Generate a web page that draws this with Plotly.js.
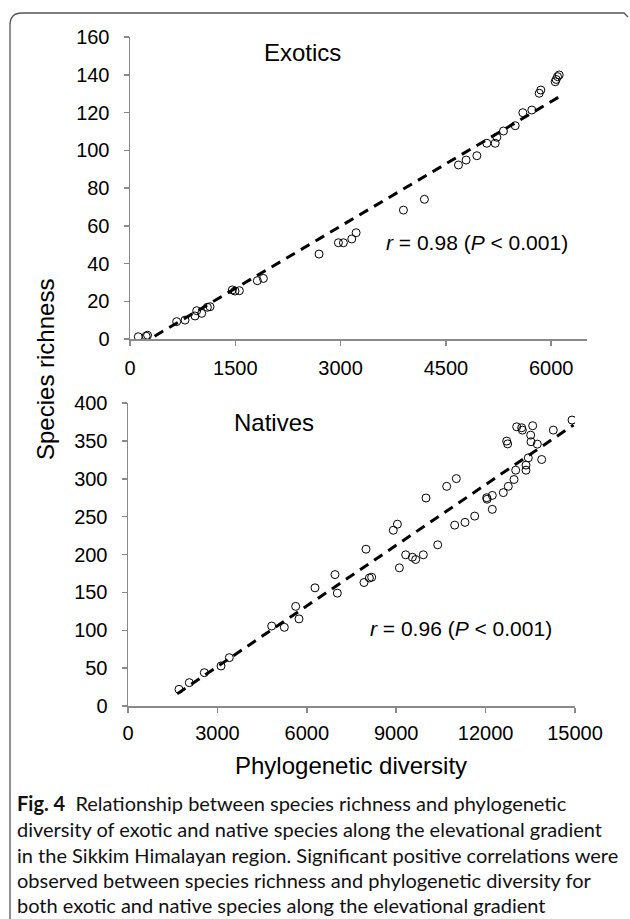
<!DOCTYPE html>
<html>
<head>
<meta charset="utf-8">
<script src="https://cdn.plot.ly/plotly-3.0.1.min.js"></script>
<style>
html,body{margin:0;padding:0;background:#fff;}
#chart{width:630px;height:919px;}
</style>
</head>
<body>
<div id="chart"></div>
<script>
// ---- Data ----
const exoticPD = [118, 230, 250, 665, 784, 926, 950, 1021, 1102, 1140, 1458, 1496, 1558, 1814, 1900,
  2693, 2969, 3040, 3159, 3221, 3895, 4194, 4679, 4788, 4941, 5083, 5202, 5226, 5320, 5487,
  5596, 5724, 5829, 5852, 6057, 6071, 6090, 6114];
const exoticSR = [1.2, 1.5, 2, 9.2, 10, 12.2, 15, 13.6, 16.8, 17.1, 26, 25.4, 25.6, 30.9, 32.1,
  45, 51, 51, 53, 56.3, 68.3, 74, 92.2, 94.8, 97.1, 103.7, 103.7, 106.9, 110.2, 113,
  119.9, 121.3, 130.2, 131.9, 136.3, 137.5, 139, 139.9];
const exoticFitPD = [350, 6100];
const exoticFitSR = [1.5, 128];

const nativePD = [1711, 2057, 2561, 3121, 3400, 4822, 5246, 5627, 5738, 6275, 6946, 7024, 7919, 7987,
  8100, 8177, 8903, 9040, 9107, 9318, 9542, 9654, 9910, 10000, 10393, 10695, 11018, 10963, 11309,
  11634, 12037, 12050, 12225, 12225, 12594, 12762, 12953, 13010, 13356, 13356, 13433, 13882, 12708,
  12740, 13043, 13210, 13233, 13580, 13512, 13523, 13735, 14272, 14900];
const nativeSR = [22, 30.8, 44, 52.8, 63.8, 105.6, 103.9, 131.5, 115, 156, 173.5, 149, 163, 207,
  169, 170, 232, 240, 182.4, 199.6, 196.4, 193.4, 199.6, 274.6, 212.8, 290, 300.2, 238.8, 242.4,
  250.7, 275, 273, 278, 259.6, 281.7, 290, 299, 311.3, 311.3, 318, 327.6, 325.4, 349.7,
  346, 368.6, 367.3, 364.2, 370, 357.6, 348.8, 345.7, 364.2, 377.5];
const nativeFitPD = [1650, 14950];
const nativeFitSR = [16, 371];

const panelLabels = ["Exotics", "Natives"];
const statLabels = ["<i>r</i> = 0.98 (<i>P</i> &lt; 0.001)", "<i>r</i> = 0.96 (<i>P</i> &lt; 0.001)"];
const xTitle = "Phylogenetic diversity";
const yTitle = "Species richness";
const captionLines = [
  "<b>Fig. 4</b>  Relationship between species richness and phylogenetic",
  "diversity of exotic and native species along the elevational gradient",
  "in the Sikkim Himalayan region. Significant positive correlations were",
  "observed between species richness and phylogenetic diversity for",
  "both exotic and native species along the elevational gradient"
];

// ---- Layout helpers (pixel -> paper) ----
const W = 630, H = 919;
const px = x => x / W;
const py = y => 1 - y / H;

const FONT = '"Liberation Sans", Arial, sans-serif';
const CAPFONT = 'Lato, "Open Sans", sans-serif';
const AXC = '#8a8a8a';

const markerStyle = {symbol: 'circle-open', size: 8, color: '#000', line: {width: 1, color: '#000'}};
const fitStyle = {color: '#000', width: 3, dash: '10px,7px'};

const traces = [
  {x: exoticFitPD, y: exoticFitSR, mode: 'lines', line: fitStyle, xaxis: 'x', yaxis: 'y', hoverinfo: 'skip'},
  {x: exoticPD, y: exoticSR, mode: 'markers', marker: markerStyle, xaxis: 'x', yaxis: 'y'},
  {x: nativeFitPD, y: nativeFitSR, mode: 'lines', line: fitStyle, xaxis: 'x2', yaxis: 'y2', hoverinfo: 'skip'},
  {x: nativePD, y: nativeSR, mode: 'markers', marker: markerStyle, xaxis: 'x2', yaxis: 'y2'}
];

function axis(extra) {
  return Object.assign({
    showline: true, linecolor: AXC, linewidth: 1.5,
    ticks: 'outside', ticklen: 5, tickwidth: 1.5, tickcolor: AXC,
    showgrid: false, zeroline: false,
    tickformat: 'd',
    tickfont: {family: FONT, size: 20, color: '#000'},
    fixedrange: true
  }, extra);
}

const annotations = [
  {text: panelLabels[0], x: px(302), y: py(52), font: {family: FONT, size: 24, color: '#000'}},
  {text: panelLabels[1], x: px(274), y: py(422), font: {family: FONT, size: 24, color: '#000'}},
  {text: statLabels[0], x: px(477), y: py(242), font: {family: FONT, size: 21, color: '#000'}},
  {text: statLabels[1], x: px(461), y: py(628), font: {family: FONT, size: 21, color: '#000'}},
  {text: xTitle, x: px(351), y: py(765), font: {family: FONT, size: 24, color: '#000'}},
  {text: yTitle, x: px(45), y: py(370), textangle: -90, font: {family: FONT, size: 24, color: '#000'}}
].map(a => Object.assign({xref: 'paper', yref: 'paper', showarrow: false, xanchor: 'center', yanchor: 'middle'}, a));

const capY = [803, 829, 855, 880, 905];
captionLines.forEach((t, i) => {
  annotations.push({text: t, xref: 'paper', yref: 'paper', x: px(15), y: py(capY[i]),
    xanchor: 'left', yanchor: 'middle', align: 'left', showarrow: false,
    font: {family: CAPFONT, size: 20, color: '#111'}});
});

// frame: left and top border with rounded top-left corner
const framePath = `M ${px(10)} ${py(919)} L ${px(10)} ${py(25)} Q ${px(10)} ${py(13)} ${px(22)} ${py(13)} L ${px(624)} ${py(13)} L ${px(628)} ${py(17)}`;

const layout = {
  width: W, height: H,
  margin: {l: 0, r: 0, t: 0, b: 0, pad: 0},
  paper_bgcolor: '#fff', plot_bgcolor: '#fff',
  showlegend: false,
  font: {family: FONT, color: '#000'},
  xaxis: axis({domain: [px(130), px(587)], range: [0, 6510], dtick: 1500, tick0: 0, anchor: 'y', ticklabelstandoff: 5}),
  yaxis: axis({domain: [py(339), py(37)], range: [0, 160], dtick: 20, tick0: 0, anchor: 'x', ticklabelstandoff: 10}),
  xaxis2: axis({domain: [px(128), px(575)], range: [0, 15000], dtick: 3000, tick0: 0, anchor: 'y2', ticklabelstandoff: 3}),
  yaxis2: axis({domain: [py(706), py(403)], range: [0, 400], dtick: 50, tick0: 0, anchor: 'x2', ticklabelstandoff: 10}),
  annotations: annotations,
  shapes: [{type: 'path', xref: 'paper', yref: 'paper', path: framePath, line: {color: '#555', width: 1.3}}]
};

Plotly.newPlot('chart', traces, layout, {staticPlot: true, displayModeBar: false});
</script>
</body>
</html>
